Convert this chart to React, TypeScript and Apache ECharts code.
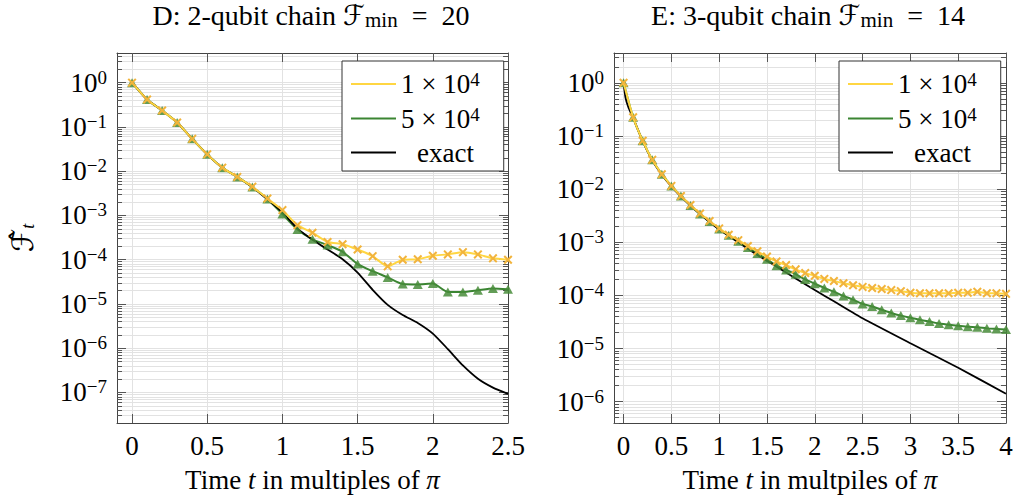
import React, { useEffect, useRef } from 'react';
import * as echarts from 'echarts';

// ---------- data (values stored as log10 of the fidelity estimate) ----------
const leftT = [0, 0.1, 0.2, 0.3, 0.4, 0.5, 0.6, 0.7, 0.8, 0.9, 1.0, 1.1, 1.2, 1.3, 1.4, 1.5, 1.6, 1.7, 1.8, 1.9, 2.0, 2.1, 2.2, 2.3, 2.4, 2.5];
const leftYellowLog = [0, -0.38, -0.63, -0.9, -1.27, -1.62, -1.92, -2.13, -2.35, -2.62, -2.88, -3.22, -3.39, -3.6, -3.65, -3.77, -3.92, -4.15, -4.0, -3.99, -3.91, -3.88, -3.83, -3.88, -3.97, -4.0];
const leftGreenLog = [0, -0.38, -0.63, -0.9, -1.27, -1.62, -1.92, -2.13, -2.36, -2.63, -2.97, -3.32, -3.54, -3.67, -3.82, -4.1, -4.26, -4.4, -4.55, -4.56, -4.54, -4.73, -4.73, -4.69, -4.65, -4.67];
const leftExactT = [0, 0.1, 0.2, 0.3, 0.4, 0.5, 0.6, 0.7, 0.8, 0.9, 1.0, 1.1, 1.2, 1.3, 1.4, 1.5, 1.6, 1.7, 1.8, 1.9, 2.0, 2.1, 2.2, 2.3, 2.4, 2.5];
const leftExactLog = [0, -0.38, -0.63, -0.9, -1.27, -1.62, -1.92, -2.13, -2.36, -2.64, -2.93, -3.3, -3.55, -3.77, -3.99, -4.29, -4.68, -5.02, -5.25, -5.43, -5.67, -6.02, -6.39, -6.69, -6.89, -7.03];

const rightT = [0, 0.1, 0.2, 0.3, 0.4, 0.5, 0.6, 0.7, 0.8, 0.9, 1.0, 1.1, 1.2, 1.3, 1.4, 1.5, 1.6, 1.7, 1.8, 1.9, 2.0, 2.1, 2.2, 2.3, 2.4, 2.5, 2.6, 2.7, 2.8, 2.9, 3.0, 3.1, 3.2, 3.3, 3.4, 3.5, 3.6, 3.7, 3.8, 3.9, 4.0];
const rightYellowLog = [0, -0.65, -1.09, -1.45, -1.72, -1.94, -2.13, -2.3, -2.46, -2.6, -2.74, -2.86, -2.96, -3.07, -3.17, -3.27, -3.36, -3.43, -3.51, -3.58, -3.63, -3.69, -3.73, -3.77, -3.81, -3.84, -3.86, -3.88, -3.9, -3.92, -3.95, -3.96, -3.96, -3.96, -3.96, -3.95, -3.95, -3.93, -3.96, -3.96, -3.97];
const rightGreenLog = [0, -0.65, -1.09, -1.45, -1.72, -1.94, -2.13, -2.31, -2.47, -2.61, -2.75, -2.87, -2.98, -3.1, -3.21, -3.32, -3.44, -3.52, -3.6, -3.7, -3.78, -3.86, -3.93, -4.01, -4.08, -4.16, -4.21, -4.27, -4.33, -4.38, -4.42, -4.46, -4.49, -4.53, -4.55, -4.57, -4.59, -4.6, -4.62, -4.63, -4.64];
const rightExactT = [0, 0.02, 0.05, 0.1, 0.2, 0.3, 0.4, 0.5, 0.6, 0.7, 0.8, 0.9, 1.0, 1.2, 1.4, 1.6, 1.8, 2.0, 2.2, 2.5, 3.0, 3.5, 4.0];
const rightExactLog = [0, -0.28, -0.46, -0.66, -1.1, -1.46, -1.73, -1.95, -2.14, -2.31, -2.47, -2.62, -2.76, -3.0, -3.24, -3.46, -3.68, -3.9, -4.11, -4.43, -4.9, -5.36, -5.85];

const seriesNames = ['1 × 10⁴', '5 × 10⁴', 'exact'];
const legendLabels = ['{b|1 × 10}{s|4}', '{b|5 × 10}{s|4}', '{e|exact}'];

const leftDecades = [-7, -6, -5, -4, -3, -2, -1, 0];
const rightDecades = [-6, -5, -4, -3, -2, -1, 0];
const leftXTicks = [0, 0.5, 1, 1.5, 2, 2.5];
const rightXTicks = [0, 0.5, 1, 1.5, 2, 2.5, 3, 3.5, 4];
const minorMantissas = [2, 3, 4, 5, 6, 7, 8, 9];

const titles = [
  'D: 2-qubit chain {f|ℱ}{m|min}\u2002=\u200220',
  'E: 3-qubit chain {f|ℱ}{m|min}\u2002=\u200214',
];
const xNames = [
  'Time {i|t} in multiples of {i|π}',
  'Time {i|t} in multpiles of {i|π}',
];
const yName = '{f|ℱ\u0302}{t|t}';

// ---------- styling ----------
const FONT = "'Liberation Serif', 'Times New Roman', serif";
const MATHF = "'DejaVu Serif', 'DejaVu Sans', serif";
const AXIS_COLOR = '#444';
const TICK_COLOR = '#555';
const GRID_COLOR = '#e2e2e2';
const YELLOW_LINE = '#ffd642';
const YELLOW_MARK = '#f2b43c';
const GREEN_LINE = '#3b8532';
const GREEN_MARK = 'rgba(72,140,58,0.85)';
const XMARK = 'path://M0,1.6L1.6,0L5,3.4L8.4,0L10,1.6L6.6,5L10,8.4L8.4,10L5,6.6L1.6,10L0,8.4L3.4,5Z';

const tickRich = {
  b: { fontSize: 27, lineHeight: 30, fontFamily: FONT, color: '#000' },
  s: { fontSize: 19, lineHeight: 16, verticalAlign: 'top', fontFamily: FONT, color: '#000' },
};
const legendRich = {
  b: { fontSize: 27, lineHeight: 28, fontFamily: FONT, color: '#000' },
  s: { fontSize: 19, lineHeight: 15, verticalAlign: 'top', fontFamily: FONT, color: '#000' },
  e: { fontSize: 27, lineHeight: 28, fontFamily: FONT, color: '#000', padding: [0, 0, 0, 16] },
};

function minorsFor(lo: number, hi: number) {
  const out: number[] = [];
  for (let n = Math.floor(lo) - 1; n <= Math.ceil(hi); n++) {
    for (const k of minorMantissas) {
      const v = n + Math.log10(k);
      if (v > lo && v < hi) out.push(v);
    }
  }
  return out;
}

function decadeLabel(v: number) {
  const r = Math.round(v);
  return '{b|10}{s|' + (r < 0 ? '−' + Math.abs(r) : String(r)) + '}';
}

function makeXAxes(gridIndex: number, min: number, max: number, ticks: number[], name: string) {
  return [
    {
      type: 'value', gridIndex, position: 'bottom', min, max,
      axisLine: { show: true, onZero: false, lineStyle: { color: AXIS_COLOR, width: 1 } },
      axisTick: { show: true, inside: true, length: 9, customValues: ticks, lineStyle: { color: TICK_COLOR, width: 1 } },
      axisLabel: {
        show: true, customValues: ticks, margin: 9, fontSize: 27, fontFamily: FONT, color: '#000',
        formatter: (v: number) => String(v),
      },
      splitLine: { show: true, lineStyle: { color: GRID_COLOR, width: 1 } },
      name, nameLocation: 'middle', nameGap: 43,
      nameTextStyle: {
        fontSize: 27, fontFamily: FONT, color: '#000',
        rich: { i: { fontSize: 27, fontFamily: FONT, fontStyle: 'italic', color: '#000' } },
      },
    },
    {
      type: 'value', gridIndex, position: 'top', min, max,
      axisLine: { show: true, onZero: false, lineStyle: { color: AXIS_COLOR, width: 1 } },
      axisTick: { show: true, inside: true, length: 9, customValues: ticks, lineStyle: { color: TICK_COLOR, width: 1 } },
      axisLabel: { show: false },
      splitLine: { show: false },
    },
  ];
}

function makeYAxes(gridIndex: number, min: number, max: number, decades: number[], withName: boolean) {
  const minors = minorsFor(min, max);
  const base = { type: 'value', gridIndex, min, max };
  const named = withName
    ? {
        name: yName, nameLocation: 'middle', nameGap: 80, nameRotate: 90,
        nameTextStyle: {
          color: '#000',
          rich: {
            f: { fontSize: 30, lineHeight: 30, fontFamily: MATHF, color: '#000' },
            t: { fontSize: 18, lineHeight: 14, verticalAlign: 'bottom', fontFamily: FONT, fontStyle: 'italic', color: '#000' },
          },
        },
      }
    : {};
  return [
    {
      ...base, position: 'left', ...named,
      axisLine: { show: true, onZero: false, lineStyle: { color: AXIS_COLOR, width: 1 } },
      axisTick: { show: true, inside: true, length: 9, customValues: decades, lineStyle: { color: TICK_COLOR, width: 1 } },
      axisLabel: { show: true, customValues: decades, margin: 10, formatter: decadeLabel, rich: tickRich },
      splitLine: { show: true, lineStyle: { color: GRID_COLOR, width: 1 } },
    },
    {
      ...base, position: 'left',
      axisLine: { show: false, onZero: false },
      axisTick: { show: true, inside: true, length: 5, customValues: minors, lineStyle: { color: TICK_COLOR, width: 1 } },
      axisLabel: { show: false },
      splitLine: { show: true, lineStyle: { color: GRID_COLOR, width: 1 } },
    },
    {
      ...base, position: 'right',
      axisLine: { show: true, onZero: false, lineStyle: { color: AXIS_COLOR, width: 1 } },
      axisTick: { show: true, inside: true, length: 9, customValues: decades, lineStyle: { color: TICK_COLOR, width: 1 } },
      axisLabel: { show: false },
      splitLine: { show: false },
    },
    {
      ...base, position: 'right',
      axisLine: { show: false, onZero: false },
      axisTick: { show: true, inside: true, length: 5, customValues: minors, lineStyle: { color: TICK_COLOR, width: 1 } },
      axisLabel: { show: false },
      splitLine: { show: false },
    },
  ];
}

function pairs(xs: number[], ys: number[]) {
  return xs.map((x, i) => [x, ys[i]]);
}

function makeSeries(xi: number, yi: number, t: number[], yl: number[], gl: number[], et: number[], el: number[]) {
  return [
    {
      name: seriesNames[1], type: 'line', xAxisIndex: xi, yAxisIndex: yi, data: pairs(t, gl),
      smooth: 0.2, symbol: 'triangle', symbolSize: [10, 9],
      itemStyle: { color: GREEN_MARK }, lineStyle: { color: GREEN_LINE, width: 2 }, z: 2,
      emphasis: { disabled: true },
    },
    {
      name: seriesNames[2], type: 'line', xAxisIndex: xi, yAxisIndex: yi, data: pairs(et, el),
      smooth: 0.2, symbol: 'none', showSymbol: false,
      itemStyle: { color: '#000' }, lineStyle: { color: '#000', width: 1.8 }, z: 2,
      emphasis: { disabled: true },
    },
    {
      name: seriesNames[0], type: 'line', xAxisIndex: xi, yAxisIndex: yi, data: pairs(t, yl),
      smooth: 0.2, symbol: XMARK, symbolSize: 9,
      itemStyle: { color: YELLOW_MARK }, lineStyle: { color: YELLOW_LINE, width: 2 }, z: 3,
      emphasis: { disabled: true },
    },
  ];
}

const legendColors = [YELLOW_LINE, GREEN_LINE, '#000'];

function makeLegend(left: number) {
  return {
    left, top: 61, orient: 'vertical', icon: 'rect', itemWidth: 45, itemHeight: 2, itemGap: 7,
    borderColor: '#333', borderWidth: 1, borderRadius: 0, padding: [9, 24, 5, 9], backgroundColor: '#fff',
    selectedMode: false, z: 10,
    data: seriesNames.map((n, i) => ({ name: n, itemStyle: { color: legendColors[i], borderWidth: 0 } })),
    formatter: (n: string) => legendLabels[seriesNames.indexOf(n)],
    textStyle: { fontSize: 27, fontFamily: FONT, color: '#000', rich: legendRich },
  };
}

const titleRich = {
  f: { fontSize: 28, lineHeight: 30, fontFamily: MATHF, color: '#000' },
  m: { fontSize: 21, lineHeight: 18, verticalAlign: 'bottom', fontFamily: FONT, color: '#000' },
};
const titleStyle = { fontSize: 28, fontWeight: 'normal', fontFamily: FONT, color: '#000', lineHeight: 30, rich: titleRich };

const option = {
  animation: false,
  backgroundColor: '#fff',
  title: [
    { text: titles[0], left: 311, top: 0, padding: 0, textAlign: 'center', textStyle: titleStyle },
    { text: titles[1], left: 808, top: 0, padding: 0, textAlign: 'center', textStyle: titleStyle },
  ],
  legend: [makeLegend(342), makeLegend(839)],
  grid: [
    { left: 117, top: 53, width: 391, height: 370, outerBoundsMode: 'none', containLabel: false },
    { left: 614, top: 53, width: 392, height: 370, outerBoundsMode: 'none', containLabel: false },
  ],
  xAxis: [
    ...makeXAxes(0, -0.1, 2.5, leftXTicks, xNames[0]),
    ...makeXAxes(1, -0.1, 4, rightXTicks, xNames[1]),
  ],
  yAxis: [
    ...makeYAxes(0, -7.69, 0.67, leftDecades, true),
    ...makeYAxes(1, -6.4, 0.56, rightDecades, false),
  ],
  series: [
    ...makeSeries(0, 0, leftT, leftYellowLog, leftGreenLog, leftExactT, leftExactLog),
    ...makeSeries(2, 4, rightT, rightYellowLog, rightGreenLog, rightExactT, rightExactLog),
  ],
};

export default function App() {
  const ref = useRef<HTMLDivElement>(null);
  useEffect(() => {
    document.body.style.margin = '0';
    const chart = echarts.init(ref.current as HTMLDivElement, undefined, { renderer: 'svg' });
    chart.setOption(option as any);
    return () => chart.dispose();
  }, []);
  return <div ref={ref} style={{ width: 1013, height: 502 }} />;
}
